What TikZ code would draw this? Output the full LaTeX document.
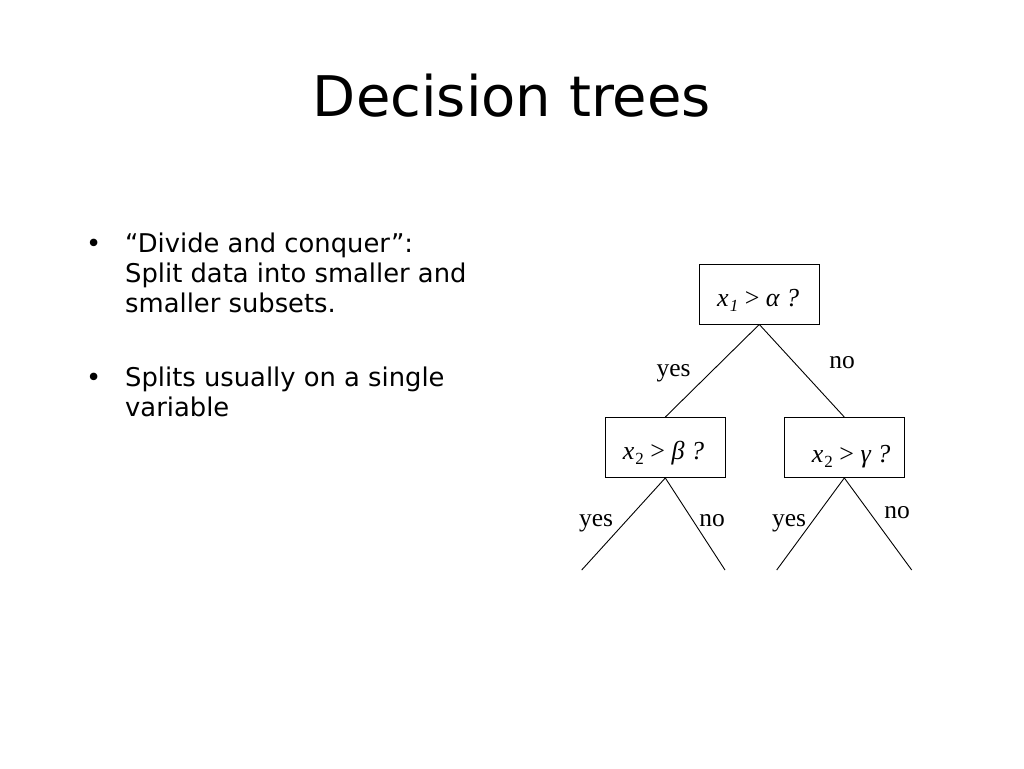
\documentclass[tikz,border=0pt]{standalone}
\usepackage{fontspec}
\setmainfont{DejaVu Sans}
\newfontfamily\treefont{Liberation Serif}
\newcommand{\subtxt}[1]{\raisebox{-5pt}{\fontsize{17}{20}\selectfont #1}}
\begin{document}
\begin{tikzpicture}[x=1pt,y=-1pt,
  box/.style={draw, line width=0.9pt, minimum width=120pt, minimum height=60pt, inner sep=0pt},
  edge/.style={line width=0.9pt},
  treetxt/.style={font=\treefont\fontsize{25.5}{29}\selectfont, inner sep=0pt, anchor=base},
  boxtxt/.style={font=\treefont\fontsize{26}{30}\selectfont, inner sep=0pt, anchor=base west},
  bullettxt/.style={font=\fontsize{25.8}{30}\selectfont, inner sep=0pt, anchor=base west},
  titletxt/.style={font=\fontsize{56}{64}\selectfont, inner sep=0pt, anchor=base}]
\useasboundingbox[fill=white] (0,0) rectangle (1024,768);
% title
\node[titletxt] (title) at (512,116.7) {Decision trees};
% bullets
\node[bullettxt] (b1dot) at (86,252.7) {•};
\node[bullettxt] (b1l1) at (125,252.7) {“Divide and conquer”:};
\node[bullettxt] (b1l2) at (125,282.7) {Split data into smaller and};
\node[bullettxt] (b1l3) at (125,312.7) {smaller subsets.};
\node[bullettxt] (b2dot) at (86,386.7) {•};
\node[bullettxt] (b2l1) at (125,386.7) {Splits usually on a single};
\node[bullettxt] (b2l2) at (125,416.7) {variable};
% tree boxes
\node[box] (root) at (759.3,294) {};
\node[box] (left) at (665.3,447.5) {};
\node[box] (right) at (844.3,447.5) {};
\node[boxtxt] (roottxt) at (717,306.7) {\textit{x}\kern1pt\subtxt{\textit{1}} > \textit{α ?}};
\node[boxtxt] (lefttxt) at (622.7,459) {\textit{x}\kern1pt\subtxt{2} > \textit{β ?}};
\node[boxtxt] (righttxt) at (811.7,462.7) {\textit{x}\kern1pt\subtxt{2} > \textit{γ ?}};
% leaf ends
\coordinate (l1) at (581.7,570);
\coordinate (l2) at (725,570);
\coordinate (l3) at (776.7,570);
\coordinate (l4) at (911.7,570);
% edges
\draw[edge] (root.south) -- (left.north);
\draw[edge] (root.south) -- (right.north);
\draw[edge] (left.south) -- (l1);
\draw[edge] (left.south) -- (l2);
\draw[edge] (right.south) -- (l3);
\draw[edge] (right.south) -- (l4);
% edge labels
\node[treetxt] (y1) at (673.5,376.5) {yes};
\node[treetxt] (n1) at (842,368) {no};
\node[treetxt] (y2) at (596,526.7) {yes};
\node[treetxt] (n2) at (712,526.7) {no};
\node[treetxt] (y3) at (789,526.7) {yes};
\node[treetxt] (n3) at (897,518.5) {no};
\end{tikzpicture}
\end{document}
